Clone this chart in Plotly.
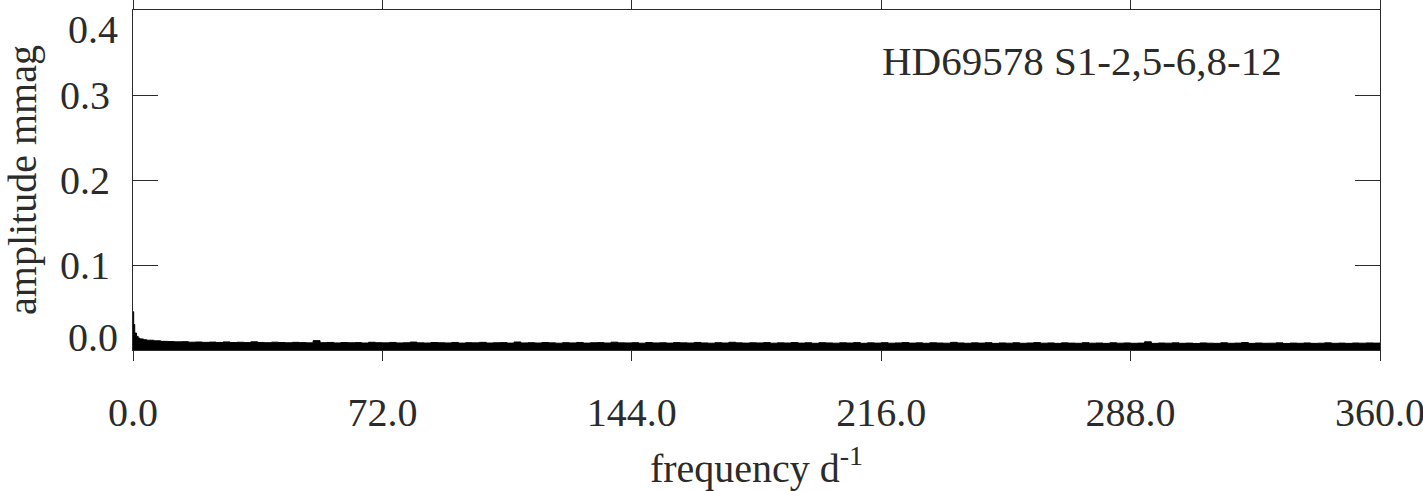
import plotly.graph_objects as go

# low-frequency rise right above 0 d-1 (mmag)
low_freq = [0.0, 0.2, 0.5, 1.0, 1.5, 2.0, 3.0]
low_amp = [0.045, 0.030, 0.020, 0.016, 0.014, 0.013, 0.012]

# noise envelope of the spectrum, every 2 d-1 from 4 to 360, in micromag
noise_freq = list(range(4, 361, 2))
noise_umag = [
    11.5, 10.8, 10.2, 9.9, 9.6, 9.8, 9.2, 9.4, 9.0, 9.3,
    8.9, 9.5, 8.8, 9.1, 8.7, 9.6, 8.9, 8.6, 9.2, 8.8,
    8.5, 9.0, 8.7, 8.4, 11.0, 8.6, 8.9, 8.3, 8.8, 8.5,
    8.7, 8.2, 9.1, 8.6, 8.4, 8.9, 8.3, 8.5, 9.3, 8.4,
    8.2, 8.8, 8.5, 8.3, 8.9, 8.1, 8.6, 8.4, 9.0, 8.2,
    8.5, 8.7, 8.1, 9.4, 8.3, 8.6, 8.2, 8.8, 8.4, 8.0,
    8.6, 8.3, 8.9, 8.1, 8.5, 8.7, 8.2, 9.2, 8.4, 8.3,
    8.6, 8.0, 8.8, 8.3, 8.5, 8.1, 8.7, 8.4, 8.2, 8.9,
    8.3, 8.0, 8.6, 8.2, 9.1, 8.4, 8.1, 8.5, 8.3, 8.7,
    8.0, 8.4, 8.2, 8.8, 8.1, 8.5, 7.9, 8.6, 8.3, 8.0,
    8.5, 8.2, 8.7, 7.9, 8.4, 8.1, 8.6, 8.0, 8.3, 8.8,
    8.1, 8.4, 7.9, 8.5, 8.2, 8.0, 9.0, 8.3, 7.9, 8.4,
    8.1, 8.6, 7.8, 8.3, 8.0, 8.5, 7.9, 8.2, 8.7, 8.0,
    8.3, 7.8, 8.4, 8.1, 7.9, 8.6, 8.0, 8.2, 7.8, 8.5,
    8.0, 8.3, 7.9, 8.1, 9.6, 7.8, 8.2, 8.0, 8.4, 7.9,
    8.1, 7.7, 8.3, 8.0, 7.8, 8.5, 7.9, 8.1, 8.8, 7.8,
    8.2, 7.9, 8.0, 8.4, 7.7, 8.1, 7.9, 8.3, 7.8, 8.0,
    8.4, 7.9, 8.1, 7.8, 8.2, 8.0, 8.3, 8.1, 8.5,
]

x_ticks = [0, 72, 144, 216, 288, 360]
y_ticks = [0.1, 0.2, 0.3]
label_text = "HD69578 S1-2,5-6,8-12"

freq = low_freq + noise_freq
amp = low_amp + [v / 1000 for v in noise_umag]

ink = "#2b2b2b"
font = dict(family="Liberation Serif", size=40, color=ink)

fig = go.Figure()
fig.add_trace(go.Scatter(
    x=freq, y=amp, mode="lines",
    line=dict(color="black", width=1, shape="hv"),
    fill="tozeroy", fillcolor="black",
    hoverinfo="skip", showlegend=False,
))
# carrier so the second amplitude axis (end labels) gets drawn
fig.add_trace(go.Scatter(
    x=[0], y=[0], yaxis="y2", mode="markers",
    marker=dict(size=1, opacity=0), hoverinfo="skip", showlegend=False,
))

fig.update_layout(
    width=1423, height=491,
    margin=dict(l=133, r=43, t=10, b=141),
    paper_bgcolor="white", plot_bgcolor="white",
    font=font,
    xaxis=dict(
        range=[0, 360], tickvals=x_ticks, tickformat=".1f", tickfont=font,
        ticks="outside", ticklen=10, tickcolor=ink, tickwidth=1,
        showline=True, linecolor=ink, linewidth=1, mirror="ticks",
        showgrid=False, zeroline=False, automargin=False,
        ticklabelstandoff=17, ticklabeloverflow="allow",
        title=dict(text="frequency d<sup>-1</sup>", standoff=30, font=font),
    ),
    yaxis=dict(
        range=[0, 0.4], tickvals=y_ticks, tickformat=".1f", tickfont=font,
        ticks="inside", ticklen=25, tickcolor=ink, tickwidth=1,
        showline=True, linecolor=ink, linewidth=1, mirror="ticks",
        showgrid=False, zeroline=False, automargin=False,
        ticklabelstandoff=14,
        title=dict(text="amplitude mmag", standoff=39, font=font),
    ),
    # end labels of the amplitude axis sit inside the frame, as in the original
    yaxis2=dict(
        overlaying="y", side="left", range=[0, 0.4],
        tickvals=[0.0153, 0.378], ticktext=["0.0", "0.4"], tickfont=font,
        ticks="", showline=False, showgrid=False, zeroline=False,
        automargin=False, ticklabelstandoff=14,
    ),
    annotations=[dict(
        text=label_text, xref="paper", yref="paper",
        x=0.599, y=0.85, xanchor="left", yanchor="middle",
        showarrow=False, font=dict(font, size=41),
    )],
)

# the page body has a default 8px margin; drop it so the figure sits at the corner
fig.write_html(
    "out.html",
    config={"displayModeBar": False},
    post_script="document.body.style.margin = '0';",
)
